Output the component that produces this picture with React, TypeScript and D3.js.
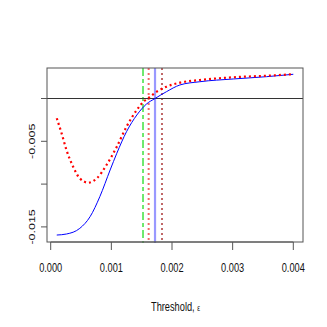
import React from "react";
import * as d3 from "d3";

const blueX = [0.0001, 0.00026, 0.00048, 0.00065, 0.00081, 0.00098, 0.00109, 0.00125, 0.00142, 0.00158, 0.00172, 0.00191, 0.00213, 0.00246, 0.00301, 0.00356, 0.004];
const blueY = [-0.01595, -0.01583, -0.01517, -0.0138, -0.01147, -0.00835, -0.0064, -0.00388, -0.00193, -0.00064, 0, 0.0008, 0.00158, 0.00196, 0.00228, 0.00255, 0.00283];
const redX = [0.0001, 0.00018, 0.00026, 0.00037, 0.00048, 0.00062, 0.00076, 0.00092, 0.00109, 0.00125, 0.00142, 0.00153, 0.0016, 0.00175, 0.00191, 0.00213, 0.00246, 0.00301, 0.00356, 0.004];
const redY = [-0.00231, -0.00407, -0.00602, -0.00797, -0.00933, -0.00983, -0.00933, -0.00777, -0.00563, -0.00329, -0.00134, -0.00037, 0, 0.0008, 0.00138, 0.00185, 0.00216, 0.00248, 0.00266, 0.00283];
const vlines = [
  { x: 0.001522, color: "#22DD22", dash: "8,3,4,3", width: 1.3 },
  { x: 0.001615, color: "#F46666", dash: "2,3", width: 2 },
  { x: 0.00172, color: "#9999FF", dash: "", width: 2.2 },
  { x: 0.001835, color: "#C06868", dash: "2,3", width: 2 },
];
const xTicks = [0, 0.001, 0.002, 0.003, 0.004];
const xTickLabels = ["0.000", "0.001", "0.002", "0.003", "0.004"];
const yTicks = [0, -0.005, -0.01, -0.015];
const yTickLabels = ["", "-0.005", "", "-0.015"];

export default function App() {
  const W = 327, H = 327;
  const left = 47, right = 303, top = 68, bottom = 242;
  const sx = 0.74;
  const fs = 12.5;
  const x = d3.scaleLinear().domain([0, 0.001]).range([50.7, 111.35]);
  const y = d3.scaleLinear().domain([0, -0.005]).range([98.5, 141.3]);
  const line = d3.line<number>().curve(d3.curveMonotoneX);
  const bluePath = line(blueX.map((v, i) => [x(v), y(blueY[i])]) as any);
  const redPath = line(redX.map((v, i) => [x(v), y(redY[i])]) as any);
  const font = "'Liberation Sans', Arial, sans-serif";
  return (
    <svg width={W} height={H} style={{ position: "absolute", left: 0, top: 0 }} fontFamily={font}>
      <rect width={W} height={H} fill="white" />
      {vlines.map((v, i) => (
        <line key={i} x1={x(v.x)} x2={x(v.x)} y1={top} y2={bottom + 1} stroke={v.color} strokeWidth={v.width} strokeDasharray={v.dash || undefined} />
      ))}
      <line x1={left - 6} x2={right} y1={y(0)} y2={y(0)} stroke="#333" strokeWidth={1} />
      <path d={bluePath || ""} fill="none" stroke="#0000FF" strokeWidth={1} />
      <path d={redPath || ""} fill="none" stroke="#FF0000" strokeWidth={2.2} strokeDasharray="2,3" />
      <rect x={left} y={top} width={right - left} height={bottom - top} fill="none" stroke="#555" strokeWidth={1} />
      {/* x axis */}
      <line x1={x(0)} x2={x(0.004)} y1={bottom} y2={bottom} stroke="#555" />
      {xTicks.map((t, i) => (
        <g key={i}>
          <line x1={x(t)} x2={x(t)} y1={bottom} y2={bottom + 8} stroke="#555" />
          <text transform={`translate(${x(t)},271.7) scale(${sx},1)`} textAnchor="middle" fontSize={fs} fill="#111">{xTickLabels[i]}</text>
        </g>
      ))}
      {yTicks.map((t, i) => (
        <g key={i}>
          <line x1={left} x2={left - 6} y1={y(t)} y2={y(t)} stroke="#555" />
          {yTickLabels[i] && (
            <text transform={`translate(35,${y(t)}) scale(${sx},1) rotate(-90)`} textAnchor="middle" fontSize={fs} fill="#111">{yTickLabels[i]}</text>
          )}
        </g>
      ))}
      <text transform={`translate(175.5,310.7) scale(${sx},1)`} textAnchor="middle" fontSize={fs} fill="#111">
        Threshold, <tspan fontSize={8.5}>ε</tspan>
      </text>
    </svg>
  );
}
